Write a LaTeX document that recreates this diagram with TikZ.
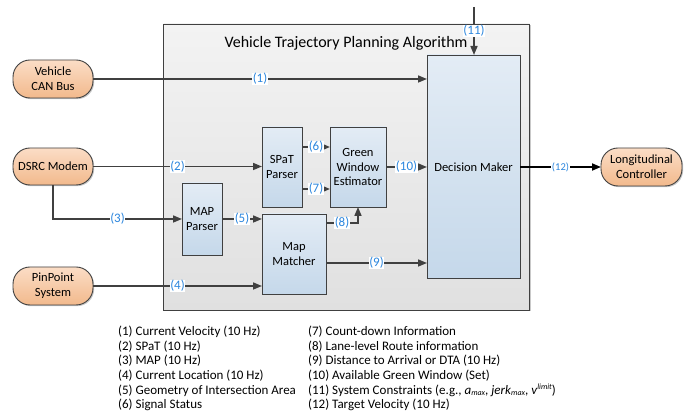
\documentclass[tikz,border=0pt]{standalone}
\usepackage{fontspec}
\setmainfont{Carlito}
\usetikzlibrary{shadows,arrows.meta}
\definecolor{peachT}{HTML}{FBDDC6}
\definecolor{peachB}{HTML}{F2B98C}
\definecolor{blueT}{HTML}{E3ECF5}
\definecolor{blueB}{HTML}{C5D8EA}
\definecolor{grayT}{HTML}{F3F3F3}
\definecolor{grayB}{HTML}{E0E0E0}
\definecolor{lblc}{HTML}{2B86DE}
\definecolor{lnc}{HTML}{404040}
\newcommand{\mysub}[1]{\raisebox{-0.25ex}{\fontsize{8}{9}\selectfont\itshape #1}}
\newcommand{\mysup}[1]{\raisebox{0.8ex}{\fontsize{8}{9}\selectfont\itshape #1}}
\tikzset{
  shd/.style={drop shadow={shadow xshift=1.2pt,shadow yshift=-1.2pt,opacity=0.3,fill=black!70}},
  extnode/.style={draw=lnc,line width=0.9pt,rounded corners=17pt,top color=peachT,bottom color=peachB,
    shd,align=center,inner sep=0pt,outer sep=0pt,font=\fontsize{12.5}{15}\selectfont},
  procbox/.style={draw=lnc,line width=0.9pt,top color=blueT,bottom color=blueB,shd,align=center,
    inner sep=0pt,outer sep=0pt,font=\fontsize{12.5}{14.5}\selectfont},
  framebox/.style={draw=lnc,line width=0.9pt,top color=grayT,bottom color=grayB,shd,inner sep=0pt,outer sep=0pt},
  conn/.style={draw=lnc,line width=1.6pt,-{Triangle[length=9pt,width=7pt]}},
  sconn/.style={draw=lnc,line width=1.6pt,-{Triangle[length=7pt,width=5.5pt]}},
  lbl/.style={fill=white,text=lblc,inner sep=0.5pt,font=\fontsize{13}{14}\selectfont},
  slbl/.style={fill=white,text=lblc,inner sep=0.5pt,font=\fontsize{10.5}{12}\selectfont},
  legend/.style={align=left,anchor=north west,inner sep=0pt,font=\fontsize{13}{14.6}\selectfont},
}
\begin{document}
\begin{tikzpicture}[x=1pt,y=-1pt]
\useasboundingbox (0,0) rectangle (697,411);
% frame
\node[framebox,minimum width=366pt,minimum height=286pt] (frame) at (346.5,167) {};
\node[font=\fontsize{16}{18}\selectfont,inner sep=0pt] (title) at (346,43) {Vehicle Trajectory Planning Algorithm};
% external nodes
\node[extnode,minimum width=80pt,minimum height=38pt] (can) at (53,79) {Vehicle\\CAN Bus};
\node[extnode,minimum width=80pt,minimum height=37pt] (dsrc) at (53,166.5) {DSRC Modem};
\node[extnode,minimum width=80pt,minimum height=38pt] (pin) at (53,286) {PinPoint\\System};
\node[extnode,minimum width=81pt,minimum height=38pt] (lc) at (641.5,167) {Longitudinal\\Controller};
% process boxes
\node[procbox,minimum width=93pt,minimum height=223pt] (dm) at (473.5,166.5) {};
\node[font=\fontsize{12.5}{14.5}\selectfont,inner sep=0pt] (dmt) at (473.5,167) {Decision Maker};
\node[procbox,minimum width=40pt,minimum height=80pt] (spat) at (282,167) {SPaT\\Parser};
\node[procbox,minimum width=56pt,minimum height=80pt] (gwe) at (358,167) {Green\\Window\\Estimator};
\node[procbox,minimum width=40pt,minimum height=72pt] (mapp) at (202,219) {MAP\\Parser};
\node[procbox,minimum width=64pt,minimum height=80pt] (mm) at (294,254) {Map\\Matcher};
% connectors
\coordinate (top11) at (474,7);
\path[conn] (top11) -- (top11 |- dm.north) node[lbl,pos=0.5] {(11)};
\path[conn] (can.east) -- (can.east -| dm.west) node[lbl,pos=0.5] {(1)};
\path[conn] (dsrc.east) -- (dsrc.east -| spat.west) node[lbl,pos=0.5] {(2)};
\path[conn] (dsrc.south) |- (mapp.west) node[lbl,pos=0.75] {(3)};
\path[conn] (pin.east) -- (pin.east -| mm.west) node[lbl,pos=0.5] {(4)};
\path[conn] (mapp.east) -- (mapp.east -| mm.west) node[lbl,pos=0.5] {(5)};
\path[sconn] ([yshift=20pt]spat.east) -- ([yshift=20pt]spat.east -| gwe.west) node[lbl,pos=0.5] {(6)};
\path[sconn] ([yshift=-22pt]spat.east) -- ([yshift=-22pt]spat.east -| gwe.west) node[lbl,pos=0.5] {(7)};
\path[conn] ([yshift=31pt]mm.east) -| (gwe.south) node[lbl,pos=0.25] {(8)};
\path[conn] ([yshift=-9pt]mm.east) -- ([yshift=-9pt]mm.east -| dm.west) node[lbl,pos=0.5] {(9)};
\path[conn] (gwe.east) -- (gwe.east -| dm.west) node[lbl,pos=0.5] {(10)};
\path[draw=black,line width=1.8pt,-{Triangle[length=9pt,width=7pt]}] (dm.east |- lc.west) -- (lc.west) node[slbl,pos=0.5] {(12)};
% legend
\node[legend] (leg1) at (118,326) {(1) Current Velocity (10 Hz)\\(2) SPaT (10 Hz)\\(3) MAP (10 Hz)\\(4) Current Location (10 Hz)\\(5) Geometry of Intersection Area\\(6) Signal Status};
\node[legend] (leg2) at (308,326) {(7) Count-down Information\\(8) Lane-level Route information\\(9) Distance to Arrival or DTA (10 Hz)\\(10) Available Green Window (Set)\\(11) System Constraints (e.g., \textit{a}\mysub{max}, \textit{jerk}\mysub{max}, \textit{v}\mysup{limit})\\(12) Target Velocity (10 Hz)};
\end{tikzpicture}
\end{document}
